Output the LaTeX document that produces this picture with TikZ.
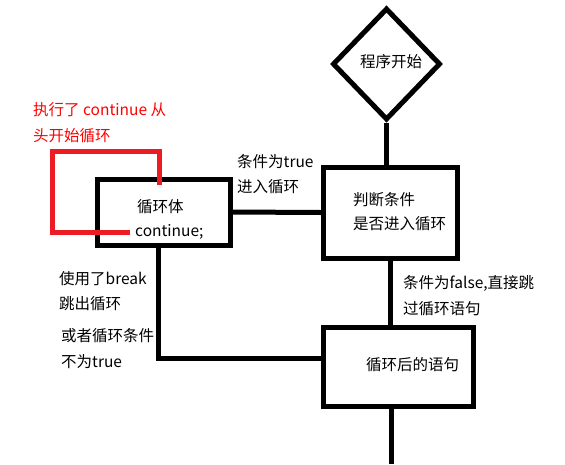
\documentclass[tikz,border=0pt]{standalone}
\usepackage{fontspec}
\setmainfont{Noto Sans CJK SC}
\usetikzlibrary{shapes.geometric}
\definecolor{paintred}{RGB}{237,28,36}
\begin{document}
\begin{tikzpicture}[x=1pt,y=-1pt,
  blk/.style={draw=black,line width=5pt,line join=miter},
  boxnode/.style={blk,rectangle,inner sep=0pt},
  lbl/.style={anchor=west,inner sep=0pt,font=\fontsize{15.5}{18}\selectfont},
  conn/.style={draw=black,line width=5pt},
  redconn/.style={draw=paintred,line width=5pt}]
\useasboundingbox (0,0) rectangle (565,464);
% nodes
\node[blk,diamond,aspect=1,minimum width=108pt,minimum height=112pt,inner sep=0pt] (start) at (386.5,64) {};
\node[lbl] (starttxt) at (360,62) {程序开始};
\node[boxnode,minimum width=134pt,minimum height=91pt] (judge) at (390,212.5) {};
\node[lbl] (j1) at (353,200) {判断条件};
\node[lbl] (j2) at (353,224) {是否进入循环};
\node[boxnode,minimum width=133pt,minimum height=66pt] (body) at (163.5,212) {};
\node[lbl] (b1) at (137,207) {循环体};
\node[lbl] (b2) at (135,232) {continue;};
\node[boxnode,minimum width=150pt,minimum height=79pt] (after) at (398,366.5) {};
\node[lbl] (a1) at (366,365) {循环后的语句};
% labels
\node[lbl] (t1) at (237,162) {条件为true};
\node[lbl] (t2) at (237,187) {进入循环};
\node[lbl] (f1) at (403,283) {条件为false,直接跳};
\node[lbl] (f2) at (403,309) {过循环语句};
\node[lbl] (k1) at (59,279) {使用了break};
\node[lbl] (k2) at (59,304) {跳出循环};
\node[lbl] (k3) at (61,336) {或者循环条件};
\node[lbl] (k4) at (61,362) {不为true};
\node[lbl,text=red] (r1) at (33,110) {执行了 continue 从};
\node[lbl,text=red] (r2) at (33,136) {头开始循环};
% connectors
\coordinate (redstart) at (159,185);
\coordinate (endpt) at (391,464);
\draw[conn] (start.south) -- (start.south |- judge.north);
\draw[conn] (body.east) -- (judge.west);
\fill (judge.west) circle (2.5pt);
\draw[conn] (judge.south) -- (judge.south |- after.north);
\draw[conn] ([xshift=-5.5pt]body.south) |- ([yshift=8.5pt]after.west);
\draw[conn] (endpt |- after.south) -- (endpt);
\draw[redconn,line join=miter] (redstart) -- (159,151) -- (52,151) -- (52,232) -- ([xshift=-5pt]b2.west);
\end{tikzpicture}
\end{document}
